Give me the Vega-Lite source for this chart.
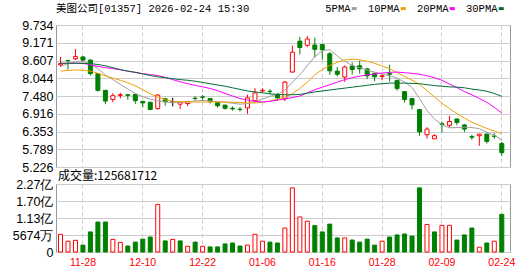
{
  "$schema": "https://vega.github.io/schema/vega-lite/v6.json",
  "padding": {"left": 5, "top": 3, "right": 0, "bottom": 0},
  "background": "white",
  "spacing": -5,
  "config": {
    "view": {"stroke": "#999", "strokeWidth": 1},
    "axis": {"ticks": false, "tickSize": 0, "domain": false, "title": null, "gridColor": "#cccccc", "gridWidth": 1, "gridOpacity": 1, "labelColor": "#000", "labelOverlap": false},
    "axisY": {"labelFont": "Liberation Sans", "labelFontSize": 12.5, "labelPadding": 3, "minExtent": 50, "maxExtent": 50, "labelBaseline": "middle"},
    "title": {"fontWeight": "normal", "color": "#000", "anchor": "start", "frame": "group"}
  },
  "datasets": {
    "k": [
      {"d": "11-25", "o": 8.47, "h": 8.72, "l": 8.40, "c": 8.51, "v": 59000000, "vd": "up", "5PMA": 8.42, "10PMA": 8.27, "20PMA": 8.51, "30PMA": 8.52},
      {"d": "11-26", "o": 8.61, "h": 8.62, "l": 8.32, "c": 8.60, "v": 36000000, "vd": "up", "5PMA": 8.50, "10PMA": 8.29, "20PMA": 8.52, "30PMA": 8.52},
      {"d": "11-27", "o": 8.66, "h": 8.97, "l": 8.62, "c": 8.73, "v": 39000000, "vd": "up", "5PMA": 8.56, "10PMA": 8.31, "20PMA": 8.52, "30PMA": 8.52},
      {"d": "11-28", "o": 8.72, "h": 8.74, "l": 8.55, "c": 8.62, "v": 23000000, "vd": "down", "5PMA": 8.58, "10PMA": 8.30, "20PMA": 8.52, "30PMA": 8.51},
      {"d": "12-01", "o": 8.62, "h": 8.64, "l": 8.13, "c": 8.19, "v": 67000000, "vd": "down", "5PMA": 8.50, "10PMA": 8.27, "20PMA": 8.47, "30PMA": 8.51},
      {"d": "12-02", "o": 8.19, "h": 8.21, "l": 7.62, "c": 7.66, "v": 100000000, "vd": "down", "5PMA": 8.35, "10PMA": 8.20, "20PMA": 8.42, "30PMA": 8.48},
      {"d": "12-03", "o": 7.66, "h": 7.67, "l": 7.22, "c": 7.32, "v": 100000000, "vd": "down", "5PMA": 8.15, "10PMA": 8.12, "20PMA": 8.38, "30PMA": 8.44},
      {"d": "12-04", "o": 7.37, "h": 7.57, "l": 7.28, "c": 7.49, "v": 42000000, "vd": "up", "5PMA": 8.00, "10PMA": 8.05, "20PMA": 8.35, "30PMA": 8.38},
      {"d": "12-05", "o": 7.50, "h": 7.58, "l": 7.40, "c": 7.52, "v": 32000000, "vd": "up", "5PMA": 7.85, "10PMA": 7.98, "20PMA": 8.31, "30PMA": 8.32},
      {"d": "12-08", "o": 7.52, "h": 7.53, "l": 7.36, "c": 7.50, "v": 20000000, "vd": "down", "5PMA": 7.70, "10PMA": 7.90, "20PMA": 8.27, "30PMA": 8.27},
      {"d": "12-09", "o": 7.53, "h": 7.55, "l": 7.23, "c": 7.33, "v": 33000000, "vd": "down", "5PMA": 7.56, "10PMA": 7.80, "20PMA": 8.23, "30PMA": 8.23},
      {"d": "12-10", "o": 7.31, "h": 7.32, "l": 7.12, "c": 7.26, "v": 43000000, "vd": "down", "5PMA": 7.46, "10PMA": 7.68, "20PMA": 8.19, "30PMA": 8.18},
      {"d": "12-11", "o": 7.28, "h": 7.30, "l": 7.03, "c": 7.05, "v": 50000000, "vd": "down", "5PMA": 7.38, "10PMA": 7.55, "20PMA": 8.16, "30PMA": 8.13},
      {"d": "12-12", "o": 7.08, "h": 7.53, "l": 7.05, "c": 7.51, "v": 159000000, "vd": "up", "5PMA": 7.33, "10PMA": 7.45, "20PMA": 8.13, "30PMA": 8.09},
      {"d": "12-15", "o": 7.39, "h": 7.42, "l": 7.17, "c": 7.30, "v": 37000000, "vd": "down", "5PMA": 7.29, "10PMA": 7.36, "20PMA": 8.07, "30PMA": 8.06},
      {"d": "12-16", "o": 7.30, "h": 7.42, "l": 7.15, "c": 7.30, "v": 42000000, "vd": "up", "5PMA": 7.26, "10PMA": 7.31, "20PMA": 8.00, "30PMA": 8.03},
      {"d": "12-17", "o": 7.22, "h": 7.29, "l": 7.07, "c": 7.28, "v": 37000000, "vd": "down", "5PMA": 7.28, "10PMA": 7.30, "20PMA": 7.93, "30PMA": 8.00},
      {"d": "12-18", "o": 7.24, "h": 7.32, "l": 7.16, "c": 7.31, "v": 19000000, "vd": "up", "5PMA": 7.30, "10PMA": 7.29, "20PMA": 7.87, "30PMA": 7.98},
      {"d": "12-19", "o": 7.41, "h": 7.47, "l": 7.33, "c": 7.40, "v": 33000000, "vd": "down", "5PMA": 7.32, "10PMA": 7.29, "20PMA": 7.82, "30PMA": 7.95},
      {"d": "12-22", "o": 7.45, "h": 7.51, "l": 7.33, "c": 7.44, "v": 19000000, "vd": "up", "5PMA": 7.34, "10PMA": 7.29, "20PMA": 7.77, "30PMA": 7.91},
      {"d": "12-23", "o": 7.40, "h": 7.41, "l": 7.24, "c": 7.30, "v": 17000000, "vd": "down", "5PMA": 7.32, "10PMA": 7.29, "20PMA": 7.72, "30PMA": 7.87},
      {"d": "12-24", "o": 7.27, "h": 7.29, "l": 7.11, "c": 7.17, "v": 17000000, "vd": "down", "5PMA": 7.30, "10PMA": 7.29, "20PMA": 7.65, "30PMA": 7.83},
      {"d": "12-29", "o": 7.19, "h": 7.20, "l": 7.05, "c": 7.09, "v": 27000000, "vd": "down", "5PMA": 7.28, "10PMA": 7.29, "20PMA": 7.56, "30PMA": 7.79},
      {"d": "12-30", "o": 7.09, "h": 7.15, "l": 7.02, "c": 7.07, "v": 30000000, "vd": "down", "5PMA": 7.25, "10PMA": 7.28, "20PMA": 7.48, "30PMA": 7.74},
      {"d": "12-31", "o": 7.06, "h": 7.13, "l": 6.99, "c": 7.05, "v": 20000000, "vd": "down", "5PMA": 7.22, "10PMA": 7.27, "20PMA": 7.40, "30PMA": 7.69},
      {"d": "01-02", "o": 7.10, "h": 7.52, "l": 6.91, "c": 7.42, "v": 23000000, "vd": "up", "5PMA": 7.24, "10PMA": 7.26, "20PMA": 7.35, "30PMA": 7.64},
      {"d": "01-05", "o": 7.33, "h": 7.73, "l": 7.27, "c": 7.58, "v": 59000000, "vd": "up", "5PMA": 7.30, "10PMA": 7.26, "20PMA": 7.31, "30PMA": 7.61},
      {"d": "01-06", "o": 7.64, "h": 7.73, "l": 7.58, "c": 7.66, "v": 36000000, "vd": "up", "5PMA": 7.38, "10PMA": 7.28, "20PMA": 7.29, "30PMA": 7.58},
      {"d": "01-07", "o": 7.63, "h": 7.70, "l": 7.53, "c": 7.62, "v": 33000000, "vd": "down", "5PMA": 7.47, "10PMA": 7.32, "20PMA": 7.31, "30PMA": 7.55},
      {"d": "01-08", "o": 7.52, "h": 7.58, "l": 7.33, "c": 7.42, "v": 30000000, "vd": "down", "5PMA": 7.54, "10PMA": 7.38, "20PMA": 7.35, "30PMA": 7.53},
      {"d": "01-09", "o": 7.39, "h": 7.96, "l": 7.32, "c": 7.92, "v": 80000000, "vd": "up", "5PMA": 7.66, "10PMA": 7.45, "20PMA": 7.39, "30PMA": 7.52},
      {"d": "01-12", "o": 8.24, "h": 9.08, "l": 8.22, "c": 8.87, "v": 214000000, "vd": "up", "5PMA": 7.92, "10PMA": 7.55, "20PMA": 7.43, "30PMA": 7.52},
      {"d": "01-13", "o": 9.22, "h": 9.36, "l": 8.80, "c": 9.02, "v": 117000000, "vd": "up", "5PMA": 8.15, "10PMA": 7.72, "20PMA": 7.48, "30PMA": 7.53},
      {"d": "01-14", "o": 9.09, "h": 9.39, "l": 9.03, "c": 9.29, "v": 103000000, "vd": "up", "5PMA": 8.45, "10PMA": 7.92, "20PMA": 7.58, "30PMA": 7.57},
      {"d": "01-15", "o": 9.10, "h": 9.33, "l": 8.70, "c": 8.96, "v": 88000000, "vd": "down", "5PMA": 8.72, "10PMA": 8.15, "20PMA": 7.68, "30PMA": 7.61},
      {"d": "01-16", "o": 9.11, "h": 9.13, "l": 8.63, "c": 8.95, "v": 67000000, "vd": "down", "5PMA": 8.92, "10PMA": 8.32, "20PMA": 7.76, "30PMA": 7.64},
      {"d": "01-19", "o": 8.82, "h": 8.87, "l": 8.16, "c": 8.28, "v": 93000000, "vd": "down", "5PMA": 8.95, "10PMA": 8.45, "20PMA": 7.84, "30PMA": 7.67},
      {"d": "01-20", "o": 8.27, "h": 8.40, "l": 8.10, "c": 8.17, "v": 47000000, "vd": "down", "5PMA": 8.75, "10PMA": 8.55, "20PMA": 7.92, "30PMA": 7.70},
      {"d": "01-21", "o": 8.08, "h": 8.45, "l": 7.93, "c": 8.40, "v": 47000000, "vd": "up", "5PMA": 8.58, "10PMA": 8.62, "20PMA": 8.00, "30PMA": 7.73},
      {"d": "01-22", "o": 8.43, "h": 8.54, "l": 8.16, "c": 8.32, "v": 40000000, "vd": "down", "5PMA": 8.45, "10PMA": 8.65, "20PMA": 8.06, "30PMA": 7.76},
      {"d": "01-23", "o": 8.44, "h": 8.60, "l": 8.19, "c": 8.34, "v": 33000000, "vd": "down", "5PMA": 8.38, "10PMA": 8.63, "20PMA": 8.11, "30PMA": 7.79},
      {"d": "01-26", "o": 8.34, "h": 8.37, "l": 8.02, "c": 8.12, "v": 43000000, "vd": "down", "5PMA": 8.30, "10PMA": 8.58, "20PMA": 8.15, "30PMA": 7.82},
      {"d": "01-27", "o": 8.20, "h": 8.23, "l": 7.95, "c": 8.09, "v": 23000000, "vd": "down", "5PMA": 8.24, "10PMA": 8.52, "20PMA": 8.18, "30PMA": 7.85},
      {"d": "01-28", "o": 8.10, "h": 8.18, "l": 7.98, "c": 8.12, "v": 36000000, "vd": "up", "5PMA": 8.18, "10PMA": 8.43, "20PMA": 8.21, "30PMA": 7.87},
      {"d": "01-29", "o": 8.19, "h": 8.47, "l": 7.94, "c": 8.17, "v": 50000000, "vd": "down", "5PMA": 8.12, "10PMA": 8.35, "20PMA": 8.23, "30PMA": 7.89},
      {"d": "01-30", "o": 7.98, "h": 7.99, "l": 7.65, "c": 7.72, "v": 57000000, "vd": "down", "5PMA": 8.05, "10PMA": 8.22, "20PMA": 8.24, "30PMA": 7.89},
      {"d": "02-02", "o": 7.62, "h": 7.64, "l": 7.27, "c": 7.37, "v": 60000000, "vd": "down", "5PMA": 7.92, "10PMA": 8.10, "20PMA": 8.22, "30PMA": 7.89},
      {"d": "02-03", "o": 7.40, "h": 7.41, "l": 7.05, "c": 7.20, "v": 53000000, "vd": "down", "5PMA": 7.75, "10PMA": 7.98, "20PMA": 8.20, "30PMA": 7.88},
      {"d": "02-04", "o": 7.05, "h": 7.06, "l": 6.22, "c": 6.34, "v": 214000000, "vd": "down", "5PMA": 7.40, "10PMA": 7.85, "20PMA": 8.17, "30PMA": 7.87},
      {"d": "02-05", "o": 6.25, "h": 6.49, "l": 6.13, "c": 6.43, "v": 92000000, "vd": "up", "5PMA": 7.02, "10PMA": 7.65, "20PMA": 8.12, "30PMA": 7.84},
      {"d": "02-06", "o": 6.12, "h": 6.27, "l": 6.11, "c": 6.22, "v": 67000000, "vd": "down", "5PMA": 6.75, "10PMA": 7.45, "20PMA": 8.06, "30PMA": 7.81},
      {"d": "02-09", "o": 6.60, "h": 6.67, "l": 6.33, "c": 6.58, "v": 89000000, "vd": "up", "5PMA": 6.57, "10PMA": 7.25, "20PMA": 7.98, "30PMA": 7.79},
      {"d": "02-10", "o": 6.55, "h": 6.85, "l": 6.48, "c": 6.67, "v": 89000000, "vd": "up", "5PMA": 6.47, "10PMA": 7.08, "20PMA": 7.86, "30PMA": 7.77},
      {"d": "02-11", "o": 6.75, "h": 6.76, "l": 6.55, "c": 6.64, "v": 40000000, "vd": "down", "5PMA": 6.48, "10PMA": 6.92, "20PMA": 7.75, "30PMA": 7.76},
      {"d": "02-12", "o": 6.56, "h": 6.59, "l": 6.33, "c": 6.43, "v": 57000000, "vd": "down", "5PMA": 6.49, "10PMA": 6.78, "20PMA": 7.62, "30PMA": 7.74},
      {"d": "02-13", "o": 6.19, "h": 6.25, "l": 6.09, "c": 6.17, "v": 80000000, "vd": "down", "5PMA": 6.48, "10PMA": 6.65, "20PMA": 7.52, "30PMA": 7.70},
      {"d": "02-16", "o": 6.22, "h": 6.28, "l": 5.90, "c": 6.27, "v": 16000000, "vd": "up", "5PMA": 6.44, "10PMA": 6.55, "20PMA": 7.40, "30PMA": 7.67},
      {"d": "02-20", "o": 6.27, "h": 6.29, "l": 5.97, "c": 6.04, "v": 30000000, "vd": "down", "5PMA": 6.33, "10PMA": 6.45, "20PMA": 7.28, "30PMA": 7.63},
      {"d": "02-23", "o": 6.21, "h": 6.30, "l": 6.12, "c": 6.20, "v": 36000000, "vd": "up", "5PMA": 6.23, "10PMA": 6.37, "20PMA": 7.12, "30PMA": 7.56},
      {"d": "02-24", "o": 5.97, "h": 6.02, "l": 5.58, "c": 5.68, "v": 125681712, "vd": "down", "5PMA": 6.08, "10PMA": 6.28, "20PMA": 6.94, "30PMA": 7.47}
    ]
  },
  "vconcat": [
    {
      "width": 454,
      "height": 142,
      "title": {"text": "美图公司[01357] 2026-02-24 15:30", "font": "Liberation Mono, Noto Sans CJK SC", "fontSize": 10.5, "offset": 5},
      "data": {"name": "k"},
      "resolve": {"axis": {"y": "independent"}},
      "encoding": {
        "x": {
          "field": "d", "type": "ordinal", "sort": null,
          "scale": {"type": "band", "paddingInner": 0, "paddingOuter": 0.35, "align": 0.146},
          "axis": {"values": ["11-28", "12-10", "12-22", "01-06", "01-16", "01-28", "02-09", "02-24"], "labels": false, "grid": true, "gridDash": [4, 3], "bandPosition": 0.5}
        }
      },
      "layer": [
        {
          "mark": {"type": "rule", "strokeWidth": 1},
          "encoding": {
            "y": {"field": "l", "type": "quantitative", "scale": {"domain": [5.226, 9.734], "nice": false, "zero": false},
              "axis": {"orient": "left", "values": [5.226, 5.789, 6.353, 6.916, 7.48, 8.044, 8.607, 9.171, 9.734], "format": ".3f", "grid": true, "labelOverlap": false, "labelBound": false, "labelFlush": false}},
            "y2": {"field": "h"},
            "color": {"condition": [{"test": "datum.c == datum.o", "value": "#000000"}, {"test": "datum.c > datum.o", "value": "#ff0000"}], "value": "#008000"}
          }
        },
        {
          "mark": {"type": "bar", "width": 4, "strokeWidth": 1},
          "encoding": {
            "y": {"field": "o", "type": "quantitative", "axis": null},
            "y2": {"field": "c"},
            "fill": {"condition": [{"test": "datum.c == datum.o", "value": "#000000"}, {"test": "datum.c > datum.o", "value": "#ffffff"}], "value": "#008000"},
            "stroke": {"condition": [{"test": "datum.c == datum.o", "value": "#000000"}, {"test": "datum.c > datum.o", "value": "#ff0000"}], "value": "#008000"}
          }
        },
        {
          "transform": [{"fold": ["5PMA", "10PMA", "20PMA", "30PMA"], "as": ["key", "val"]}],
          "mark": {"type": "line", "strokeWidth": 1},
          "encoding": {
            "y": {"field": "val", "type": "quantitative", "axis": null},
            "stroke": {
              "field": "key", "type": "nominal",
              "scale": {"domain": ["5PMA", "10PMA", "20PMA", "30PMA"], "range": ["#a0a0a0", "#f5a000", "#ff00ff", "#006e36"]},
              "legend": {"orient": "none", "legendX": 293, "legendY": -22, "direction": "horizontal", "title": null,
                "labelFont": "Liberation Mono", "labelFontSize": 10.5, "labelColor": "#000",
                "symbolType": "stroke", "symbolStrokeWidth": 3, "symbolSize": 25,
                "labelAlign": "right", "labelOffset": -9, "columnPadding": 4}
            }
          }
        }
      ]
    },
    {
      "width": 454,
      "height": 68,
      "title": {"text": "成交量:125681712", "font": "Noto Sans CJK SC", "fontSize": 12, "offset": -5, "dx": 2},
      "data": {"name": "k"},
      "mark": {"type": "bar", "width": 4, "strokeWidth": 1},
      "encoding": {
        "x": {
          "field": "d", "type": "ordinal", "sort": null,
          "scale": {"type": "band", "paddingInner": 0, "paddingOuter": 0.35, "align": 0.146},
          "axis": {"values": ["11-28", "12-10", "12-22", "01-06", "01-16", "01-28", "02-09", "02-24"], "labelColor": "#ff0000", "labelFont": "Liberation Sans", "labelFontSize": 10.5, "labelPadding": 5, "labelAngle": 0, "grid": true, "gridDash": [4, 3], "bandPosition": 0.5}
        },
        "y": {
          "field": "v", "type": "quantitative",
          "scale": {"domain": [0, 226960000], "nice": false},
          "axis": {"values": [0, 56740000, 113480000, 170220000, 226960000], "grid": true, "labelOverlap": false,
            "labelExpr": "datum.value == 0 ? '0' : (datum.value < 100000000 ? format(datum.value / 10000, '.0f') + '万' : format(datum.value / 100000000, '.2f') + '亿')"}
        },
        "fill": {"condition": {"test": "datum.vd == 'up'", "value": "#ffffff"}, "value": "#008000"},
        "stroke": {"condition": {"test": "datum.vd == 'up'", "value": "#ff0000"}, "value": "#008000"}
      }
    }
  ]
}
